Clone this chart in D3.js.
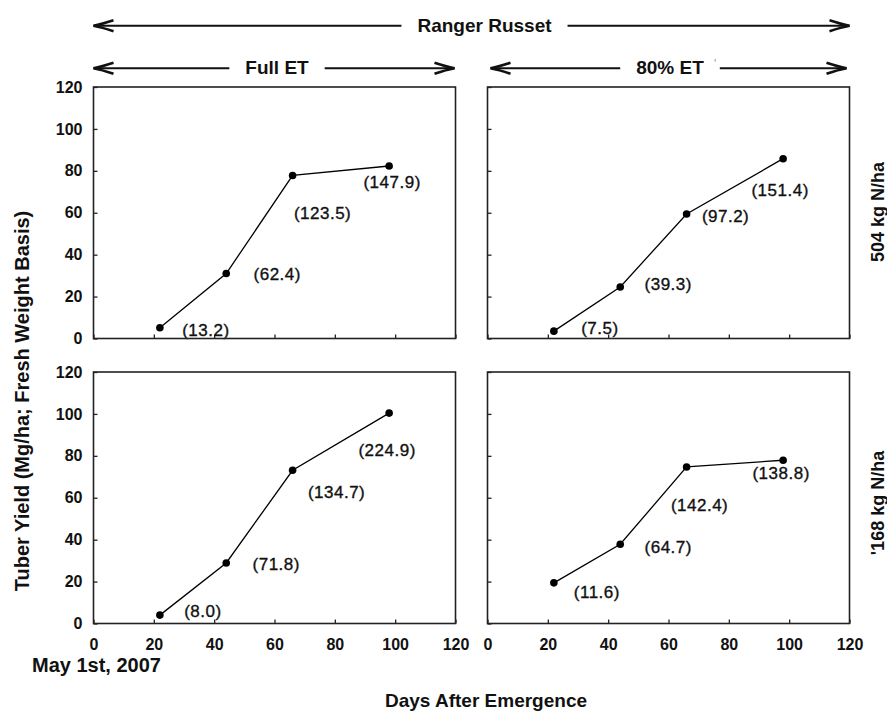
<!DOCTYPE html>
<html lang="en">
<head>
<meta charset="utf-8" />
<title>Ranger Russet tuber yield</title>
<script src="https://d3js.org/d3.v7.min.js"></script>
<style>
    body { margin: 0; background: #fff; }
    svg { font-family: "Liberation Sans", Arial, sans-serif; }
    .tick text { font-size: 16px; font-weight: bold; fill: #111; }
    .title { font-weight: bold; fill: #111; }
    .ptlabel { font-size: 17px; letter-spacing: 0.5px; fill: #111; stroke: #111; stroke-width: 0.35px; }
</style>
</head>
<body>
<svg width="887" height="711"></svg>
<script>
    // data
    var days = [22, 44, 66, 98];
    var fullET504 = [5.1, 31.0, 77.8, 82.3];
    var et80_504 = [3.5, 24.6, 59.4, 85.8];
    var fullET168 = [4.0, 28.9, 73.1, 100.4];
    var et80_168 = [19.4, 37.8, 74.7, 77.9];

    var fullET504Labels = ["(13.2)", "(62.4)", "(123.5)", "(147.9)"];
    var et80_504Labels = ["(7.5)", "(39.3)", "(97.2)", "(151.4)"];
    var fullET168Labels = ["(8.0)", "(71.8)", "(134.7)", "(224.9)"];
    var et80_168Labels = ["(11.6)", "(64.7)", "(142.4)", "(138.8)"];

    var xTicks = [0, 20, 40, 60, 80, 100, 120];
    var yTicks = [0, 20, 40, 60, 80, 100, 120];

    // label offsets from their point, in px
    var offsFull504 = [[46, 2], [51, 0], [30, 38], [3, 16]];
    var offs80_504 = [[46, -3], [48, -3], [39, 2], [-3, 31]];
    var offsFull168 = [[43, -4], [50, 1], [44, 22], [-2, 37]];
    var offs80_168 = [[43, 9], [48, 3], [13, 38], [-2, 13]];

    var svg = d3.select("svg");
    var colX = [93.5, 487.5], rowY = [87, 372];
    var pw = 362, ph = 251.5;

    var x = d3.scaleLinear().domain([0, 120]).range([0, pw]);
    var y = d3.scaleLinear().domain([0, 120]).range([ph, 0]);

    var panels = [
        { col: 0, row: 0, vals: fullET504, labels: fullET504Labels, offs: offsFull504 },
        { col: 1, row: 0, vals: et80_504, labels: et80_504Labels, offs: offs80_504 },
        { col: 0, row: 1, vals: fullET168, labels: fullET168Labels, offs: offsFull168 },
        { col: 1, row: 1, vals: et80_168, labels: et80_168Labels, offs: offs80_168 }
    ];

    panels.forEach(function (p) {
        var g = svg.append("g")
            .attr("transform", "translate(" + colX[p.col] + "," + rowY[p.row] + ")");

        var yAxis = d3.axisLeft(y).tickValues(yTicks).tickSize(-4).tickPadding(11)
            .tickFormat(p.col === 0 ? d3.format("d") : "");
        var gy = g.append("g").call(yAxis);
        gy.select(".domain").remove();

        var xAxis = d3.axisBottom(x).tickValues(xTicks).tickSize(-4).tickPadding(15)
            .tickFormat(p.row === 1 ? d3.format("d") : "");
        var gx = g.append("g").attr("transform", "translate(0," + ph + ")").call(xAxis);
        gx.select(".domain").remove();

        g.selectAll(".tick line").attr("stroke", "#222").attr("stroke-width", 1.3);

        var pts = days.map(function (d, i) { return { d: d, v: p.vals[i], lab: p.labels[i], off: p.offs[i] }; });

        g.append("path")
            .datum(pts)
            .attr("fill", "none")
            .attr("stroke", "#000")
            .attr("stroke-width", 1.3)
            .attr("d", d3.line().x(function (d) { return x(d.d); }).y(function (d) { return y(d.v); }));

        g.selectAll(".pt").data(pts).enter().append("circle")
            .attr("class", "pt")
            .attr("cx", function (d) { return x(d.d); })
            .attr("cy", function (d) { return y(d.v); })
            .attr("r", 3.8)
            .attr("fill", "#000");

        g.selectAll(".ptlabel").data(pts).enter().append("text")
            .attr("class", "ptlabel")
            .attr("text-anchor", "middle")
            .attr("x", function (d) { return x(d.d) + d.off[0]; })
            .attr("y", function (d) { return y(d.v) + d.off[1] + 6; })
            .text(function (d) { return d.lab; });

        // frame on top
        g.append("rect")
            .attr("width", pw).attr("height", ph)
            .attr("fill", "none")
            .attr("stroke", "#222")
            .attr("stroke-width", 1.6);
    });

    // double-headed arrows with a label in the gap
    function arrowLabel(x0, x1, yy, cx, baseline, txt, size) {
        var t = svg.append("text")
            .attr("class", "title")
            .attr("x", cx).attr("y", baseline)
            .attr("text-anchor", "middle")
            .style("font-size", size + "px")
            .text(txt);
        var w = t.node().getComputedTextLength();
        var gap = 16;
        var a = svg.append("g").attr("stroke", "#111").attr("fill", "none").attr("stroke-linejoin", "miter");
        a.append("path").attr("stroke-width", 2).attr("d", "M" + (cx - w / 2 - gap) + "," + yy + "H" + x0);
        a.append("path").attr("stroke-width", 2.6).attr("d", "M" + (x0 + 20) + "," + (yy - 5.5) + "Q" + (x0 + 8) + "," + (yy - 1.5) + " " + x0 + "," + yy + "Q" + (x0 + 8) + "," + (yy + 1.5) + " " + (x0 + 20) + "," + (yy + 5.5));
        a.append("path").attr("stroke-width", 2).attr("d", "M" + (cx + w / 2 + gap) + "," + yy + "H" + x1);
        a.append("path").attr("stroke-width", 2.6).attr("d", "M" + (x1 - 20) + "," + (yy - 5.5) + "Q" + (x1 - 8) + "," + (yy - 1.5) + " " + x1 + "," + yy + "Q" + (x1 - 8) + "," + (yy + 1.5) + " " + (x1 - 20) + "," + (yy + 5.5));
    }

    arrowLabel(colX[0], colX[1] + pw, 25.7, 484.5, 32, "Ranger Russet", 19);
    arrowLabel(colX[0], colX[0] + pw - 1, 68.3, 277, 74, "Full ET", 19);
    arrowLabel(colX[1] + 3, colX[1] + pw - 3, 68.3, 670, 74, "80% ET", 19);

    // stray mark next to 80% ET
    svg.append("text").attr("x", 714).attr("y", 68).attr("fill", "#999")
        .style("font-size", "12px").text("'");

    // axis titles
    svg.append("text")
        .attr("class", "title")
        .attr("transform", "translate(29,401) rotate(-90)")
        .attr("text-anchor", "middle")
        .style("font-size", "20px")
        .text("Tuber Yield (Mg/ha; Fresh Weight Basis)");

    svg.append("text")
        .attr("class", "title")
        .attr("transform", "translate(884,212) rotate(-90)")
        .attr("text-anchor", "middle")
        .style("font-size", "18px")
        .text("504 kg N/ha");

    svg.append("text")
        .attr("class", "title")
        .attr("transform", "translate(884,503) rotate(-90)")
        .attr("text-anchor", "middle")
        .style("font-size", "18px")
        .text("'168 kg N/ha");

    svg.append("text")
        .attr("class", "title")
        .attr("x", 32).attr("y", 672)
        .style("font-size", "20px")
        .text("May 1st, 2007");

    svg.append("text")
        .attr("class", "title")
        .attr("x", 486).attr("y", 707)
        .attr("text-anchor", "middle")
        .style("font-size", "19px")
        .text("Days After Emergence");
</script>
</body>
</html>
